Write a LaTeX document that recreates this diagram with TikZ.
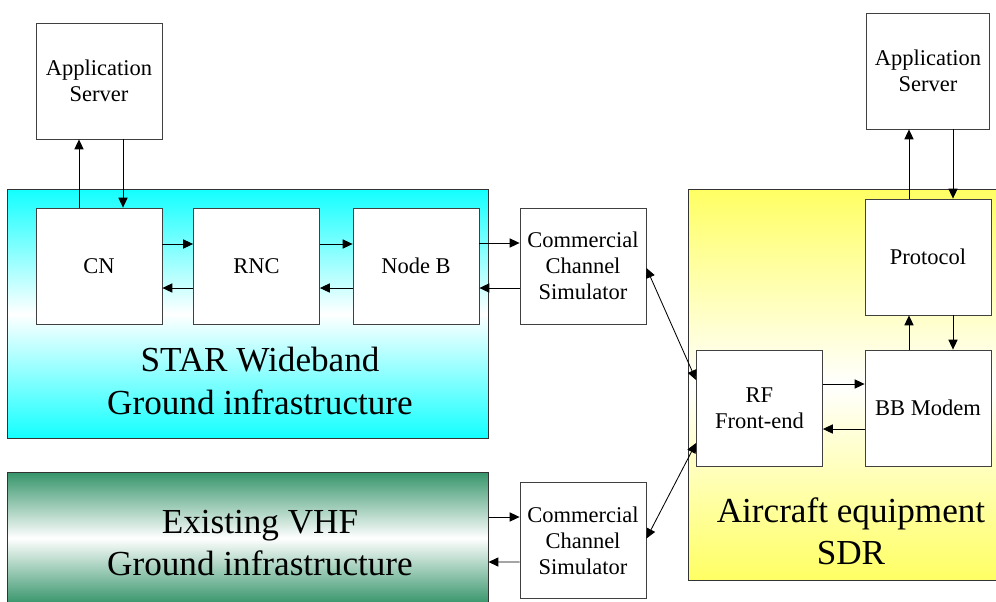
\documentclass[tikz,border=0pt]{standalone}
\usepackage{fontspec}
\setmainfont{Liberation Serif}
\usetikzlibrary{calc,arrows.meta}
\definecolor{stcyan}{RGB}{20,255,255}
\definecolor{acyellow}{RGB}{255,255,100}
\definecolor{vhfgreen}{RGB}{56,150,108}

\begin{document}
\begin{tikzpicture}[x=0.025cm, y=-0.025cm,
    blk/.style={draw=black!75, fill=white, line width=0.6pt, minimum width=3.15cm, minimum height=2.9cm, align=center, font=\fontsize{16}{18.5}\selectfont},
    grp/.style={draw=black!80, line width=0.7pt, inner sep=0pt},
    big/.style={align=center, font=\fontsize{25}{30}\selectfont},
    arr/.style={-{Triangle[length=7pt,width=6.5pt]}, line width=0.6pt},
    darr/.style={{Triangle[length=7pt,width=6.5pt]}-{Triangle[length=7pt,width=6.5pt]}, line width=0.6pt}]
    \useasboundingbox (0,0) rectangle (996,601);
    \clip (0,0) rectangle (996,601);

    % Fonds des trois ensembles
    \node[grp, minimum width=12cm, minimum height=6.2cm, top color=stcyan, bottom color=stcyan, middle color=white] (star) at (248,314) {};
    \node[grp, minimum width=12cm, minimum height=3.25cm, top color=vhfgreen, bottom color=vhfgreen, middle color=white] (vhf) at (248,538) {};
    \node[grp, minimum width=7.775cm, minimum height=9.75cm, top color=acyellow, bottom color=acyellow, middle color=white] (air) at (844.5,385) {};

    \node[big] (starlbl) at (260,381) {STAR Wideband\\Ground infrastructure};
    \node[big] (vhflbl) at (260,543) {Existing VHF\\Ground infrastructure};
    \node[big] (airlbl) at (851,531) {Aircraft equipment\\SDR};

    % Blocs sol
    \node[blk] (appL) at (99,81) {Application\\Server};
    \node[blk] (cn) at (99,266) {CN};
    \node[blk] (rnc) at (256.5,266) {RNC};
    \node[blk] (nodeb) at (416,266) {Node B};
    \node[blk] (simA) at (583,266) {Commercial\\Channel\\Simulator};
    \node[blk] (simB) at (583,540.5) {Commercial\\Channel\\Simulator};

    % Blocs avion
    \node[blk, minimum width=3.075cm] (appR) at (928,71) {Application\\Server};
    \node[blk] (prot) at (928,257) {Protocol};
    \node[blk] (rf) at (759.5,408) {RF\\Front-end};
    \node[blk] (bb) at (928,408) {BB Modem};

    % Liens sol
    \draw[arr] ($(cn.north)+(-20,0)$) -- ($(appL.south)+(-20,0)$);
    \draw[arr] ($(appL.south)+(24,0)$) -- ($(cn.north)+(24,0)$);
    \draw[arr] ($(cn.east)+(0,-22)$) -- ($(rnc.west)+(0,-22)$);
    \draw[arr] ($(rnc.west)+(0,22)$) -- ($(cn.east)+(0,22)$);
    \draw[arr] ($(rnc.east)+(0,-22)$) -- ($(nodeb.west)+(0,-22)$);
    \draw[arr] ($(nodeb.west)+(0,22)$) -- ($(rnc.east)+(0,22)$);
    \draw[arr] ($(nodeb.east)+(0,-23)$) -- ($(simA.west)+(0,-23)$);
    \draw[arr] ($(simA.west)+(0,22)$) -- ($(nodeb.east)+(0,22)$);
    \draw[arr] ($(vhf.east)+(0,-21)$) -- ($(simB.west)+(0,-23.5)$);
    \draw[arr] ($(simB.west)+(0,21.5)$) -- ($(vhf.east)+(0,24)$);

    % Liaisons radio
    \draw[darr] ($(simA.east)+(0,2)$) -- ($(rf.west)+(0,-28)$);
    \draw[darr] ($(simB.east)+(0,-2)$) -- ($(rf.west)+(0,35)$);

    % Liens avion
    \draw[arr] ($(rf.east)+(0,-24)$) -- ($(bb.west)+(0,-24)$);
    \draw[arr] ($(bb.west)+(0,21)$) -- ($(rf.east)+(0,21)$);
    \draw[arr] ($(bb.north)+(-19,0)$) -- ($(prot.south)+(-19,0)$);
    \draw[arr] ($(prot.south)+(25,0)$) -- ($(bb.north)+(25,0)$);
    \draw[arr] ($(prot.north)+(-19,0)$) -- ($(appR.south)+(-19,0)$);
    \draw[arr] ($(appR.south)+(25,0)$) -- ($(prot.north)+(25,0)$);
\end{tikzpicture}
\end{document}
